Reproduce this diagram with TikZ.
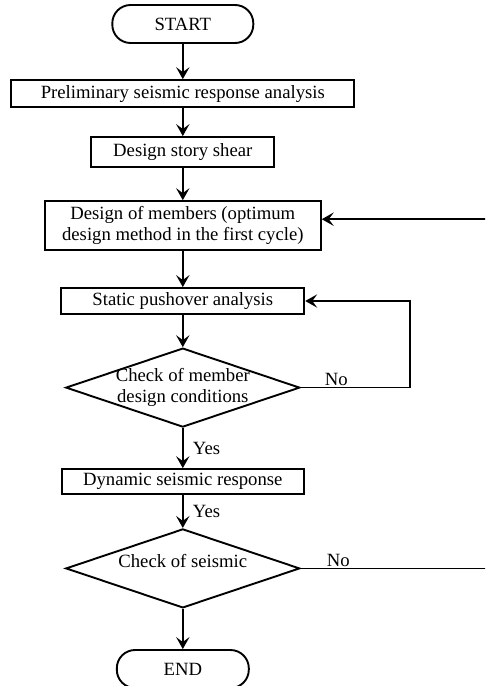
\documentclass[tikz,border=0pt]{standalone}
\usepackage{fontspec}
\setmainfont{Liberation Serif}
\usetikzlibrary{arrows.meta,shapes.geometric}

\begin{document}
\begin{tikzpicture}[
  font=\fontsize{13.3}{15.4}\selectfont,
  box/.style={draw=black, line width=1.35pt, align=center, inner sep=0pt, fill=white},
  term/.style={box, rounded corners=13pt, minimum height=0.95cm},
  decision/.style={diamond, draw=black, line width=1.35pt, inner sep=0pt, minimum width=5.85cm, minimum height=1.975cm},
  flow/.style={-{Stealth[length=8.5pt, width=9.5pt, inset=3.5pt]}, line width=1pt},
  lab/.style={inner sep=1pt},
]
\useasboundingbox (0,0) rectangle (12.125,-17.15);
\clip (0,0) rectangle (12.125,-17.15);
% main column
\node[term, minimum width=3.525cm] (start) at (4.57,-0.6) {START};
\node[box, minimum width=8.575cm, minimum height=0.675cm] (prelim) at (4.57,-2.34) {Preliminary seismic response analysis};
\node[box, minimum width=4.575cm, minimum height=0.75cm] (shear) at (4.57,-3.8) {Design story shear};
\node[box, minimum width=6.9cm, minimum height=1.225cm] (members) at (4.57,-5.64) {Design of members (optimum\\design method in the first cycle)};
\node[box, minimum width=6.075cm, minimum height=0.65cm] (pushover) at (4.57,-7.525) {Static pushover analysis};
\node[decision, label={[align=center]center:{Check of member\\design conditions}}] (checkmem) at (4.57,-9.69) {};
\node[box, minimum width=6.05cm, minimum height=0.625cm] (dynamic) at (4.57,-12.04) {Dynamic seismic response};
\node[decision, label={[yshift=5pt]center:{Check of seismic}}] (checkseis) at (4.57,-14.21) {};
\node[term, minimum width=3.3cm] (end) at (4.57,-16.725) {END};
\draw[flow] (start) -- (prelim);
\draw[flow] (prelim) -- (shear);
\draw[flow] (shear) -- (members);
\draw[flow] (members) -- (pushover);
\draw[flow] (pushover) -- (checkmem);
\draw[flow] (checkmem) -- node[lab, right, xshift=0.2cm] {Yes} (dynamic);
\draw[flow] (dynamic) -- node[lab, right, xshift=0.2cm] {Yes} (checkseis);
\draw[flow] (checkseis) -- (end);
% loops back (the outer one runs past the right edge)
\coordinate (turnA) at (10.25,0);
\coordinate (turnB) at (12.4,0);
\draw[flow] (checkmem.east) -- node[lab, pos=0, anchor=south west, xshift=0.55cm] {No} (checkmem.east -| turnA) |- (pushover.east);
\draw[flow] (checkseis.east) -- node[lab, pos=0, anchor=south west, xshift=0.6cm] {No} (checkseis.east -| turnB) |- ([yshift=0.16cm]members.east);
\end{tikzpicture}
\end{document}
